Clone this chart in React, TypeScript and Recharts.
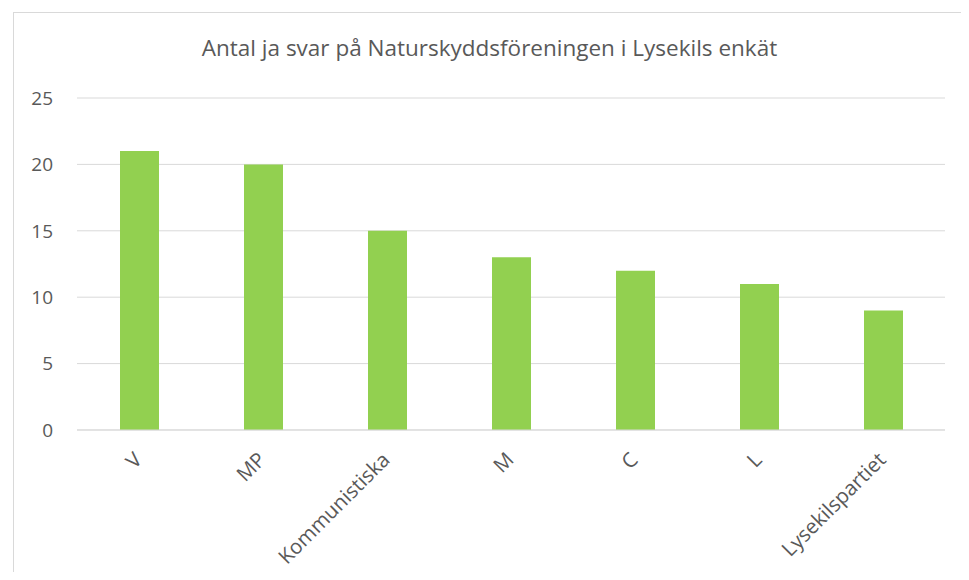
import React from "react";
import { BarChart, Bar, XAxis, YAxis, CartesianGrid } from "recharts";

const parties = ["V", "MP", "Kommunistiska", "M", "C", "L", "Lysekilspartiet"];
const yesCounts = [21, 20, 15, 13, 12, 11, 9];
const yTicks = [0, 5, 10, 15, 20, 25];

const data = parties.map((p, i) => ({ party: p, count: yesCounts[i] }));

const FONT = "'Open Sans', sans-serif";
const TEXT = "#595959";

const PartyTick = ({ x, y, payload }: any) => (
  <text
    x={x - 1}
    y={y + 18}
    transform={`rotate(-45, ${x - 1}, ${y + 18})`}
    textAnchor="end"
    dy="0.35em"
    fill={TEXT}
    fontSize={20.5}
    fontFamily={FONT}
  >
    {payload.value}
  </text>
);

export default function App() {
  return (
    <div style={{ position: "relative", margin: -8, width: 969, height: 580, overflow: "hidden", background: "#fff" }}>
      <div
        style={{
          position: "absolute", left: 13, top: 12, width: 952, height: 620,
          border: "1px solid #d9d9d9", boxSizing: "border-box",
        }}
      />
      <div
        style={{
          position: "absolute", left: 13, top: 32, width: 953, textAlign: "center",
          fontFamily: FONT, fontSize: 22.5, color: TEXT, whiteSpace: "nowrap",
        }}
      >
        Antal ja svar på Naturskyddsföreningen i Lysekils enkät
      </div>
      <BarChart
        width={969}
        height={580}
        data={data}
        margin={{ top: 98, right: 24, left: 0, bottom: 0 }}
        style={{ position: "absolute", left: 0, top: 0 }}
      >
        <CartesianGrid stroke="#d9d9d9" vertical={false} />
        <XAxis
          dataKey="party"
          height={150}
          interval={0}
          axisLine={{ stroke: "#d9d9d9" }}
          tickLine={false}
          tick={<PartyTick />}
        />
        <YAxis
          width={77}
          domain={[0, 25]}
          ticks={yTicks}
          axisLine={false}
          tickLine={false}
          tickSize={0}
          tickMargin={24}
          tick={{ fill: TEXT, fontSize: 19, fontFamily: FONT }}
        />
        <Bar dataKey="count" fill="#92d050" barSize={39} isAnimationActive={false} />
      </BarChart>
    </div>
  );
}
